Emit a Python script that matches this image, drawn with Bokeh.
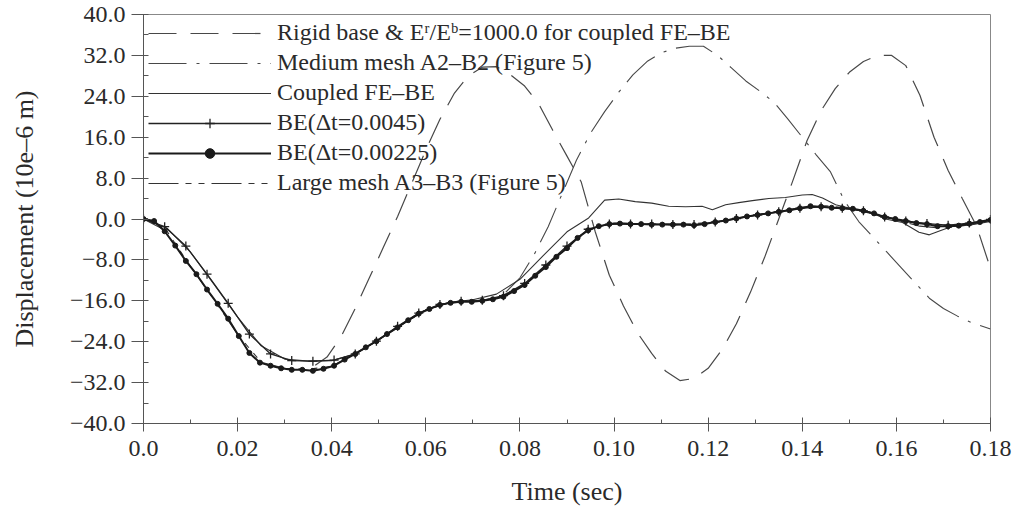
from bokeh.plotting import figure
from bokeh.models import Range1d, FixedTicker, Legend, LegendItem
from bokeh.embed import file_html
from bokeh.resources import INLINE

# ---------------- data ----------------
x_tick_vals = [0.0, 0.02, 0.04, 0.06, 0.08, 0.10, 0.12, 0.14, 0.16, 0.18]
x_tick_labels = ["0.0", "0.02", "0.04", "0.06", "0.08", "0.10", "0.12", "0.14", "0.16", "0.18"]
y_tick_vals = [-40, -32, -24, -16, -8, 0, 8, 16, 24, 32, 40]
y_tick_labels = ["\u221240.0", "\u221232.0", "\u221224.0", "\u221216.0", "\u22128.0", "0.0",
                 "8.0", "16.0", "24.0", "32.0", "40.0"]

rigid_t = [0.0365, 0.039, 0.042, 0.045, 0.048, 0.051, 0.054, 0.057, 0.060, 0.063, 0.066, 0.069,
           0.072, 0.075, 0.078, 0.081, 0.084, 0.087, 0.090, 0.093, 0.096, 0.099, 0.102, 0.105,
           0.108, 0.111, 0.114, 0.117, 0.120, 0.123, 0.126, 0.129, 0.132, 0.135, 0.138, 0.141,
           0.144, 0.147, 0.150, 0.153, 0.156, 0.159, 0.162, 0.165, 0.168, 0.171, 0.174, 0.177, 0.180]
rigid_v = [-28.6, -27.0, -23.0, -17.5, -11.5, -5.5, 0.5, 7.0, 13.5, 19.5, 24.5, 28.0,
           29.7, 29.8, 28.2, 26.0, 22.5, 17.3, 12.3, 7.3, -2.5, -11.0, -17.0, -22.3,
           -26.3, -29.8, -31.6, -31.2, -29.2, -25.5, -20.5, -14.3, -7.5, 0.0, 7.5, 15.3,
           21.2, 25.5, 28.7, 30.8, 32.0, 32.0, 30.0, 24.2, 16.0, 9.5, 4.0, -1.3, -9.7]

medium_t = [0.077, 0.080, 0.083, 0.086, 0.089, 0.092, 0.095, 0.098, 0.101, 0.104, 0.107, 0.110,
            0.113, 0.116, 0.119, 0.122, 0.125, 0.128, 0.131, 0.134, 0.137, 0.140, 0.143, 0.146,
            0.149, 0.152, 0.155, 0.158, 0.161, 0.164, 0.167, 0.170, 0.173, 0.176, 0.180]
medium_v = [-14.3, -11.5, -7.0, -1.5, 5.0, 11.5, 16.8, 21.0, 24.8, 28.2, 30.8, 32.5,
            33.4, 33.8, 33.8, 32.0, 29.5, 27.0, 25.0, 22.8, 19.5, 16.0, 12.5, 9.2,
            3.5, -0.5, -3.5, -6.5, -9.5, -12.5, -15.5, -17.5, -19.0, -20.3, -21.5]

coupled_t = [0.0, 0.005, 0.01, 0.015, 0.02, 0.025, 0.03, 0.035, 0.04, 0.045, 0.05, 0.055,
             0.06, 0.065, 0.07, 0.075, 0.08, 0.085, 0.09, 0.0946, 0.098, 0.101, 0.1045, 0.108,
             0.1116, 0.1152, 0.1187, 0.1209, 0.1237, 0.1265, 0.1294, 0.1329, 0.1364, 0.14,
             0.1421, 0.1443, 0.1471, 0.1506, 0.1542, 0.1577, 0.1613, 0.1648, 0.167, 0.169,
             0.1719, 0.1755, 0.18]
coupled_v = [0.0, -1.8, -6.5, -12.8, -19.2, -24.8, -27.4, -27.8, -27.7, -26.4, -23.6, -20.6,
             -17.8, -16.3, -15.8, -14.7, -11.8, -7.1, -2.5, 0.2, 3.7, 3.9, 3.4, 3.1,
             2.5, 2.4, 2.5, 1.8, 2.8, 3.2, 3.6, 4.0, 4.2, 4.7,
             4.8, 4.1, 2.8, 2.0, 1.4, 0.0, -0.7, -2.6, -3.1, -2.4,
             -1.4, -1.2, -0.5]

be45_t = [0.0, 0.0045, 0.009, 0.0135, 0.018, 0.0225, 0.027, 0.0315, 0.036, 0.0405, 0.045,
          0.0495, 0.054, 0.0585, 0.063, 0.0675, 0.072, 0.0765, 0.081, 0.0855, 0.09, 0.0945,
          0.099, 0.1035, 0.108, 0.1125, 0.117, 0.1215, 0.126, 0.1305, 0.135, 0.1395, 0.144,
          0.1485, 0.153, 0.1575, 0.162, 0.1665, 0.171, 0.1755, 0.18]
be45_v = [0.0, -1.5, -5.3, -10.8, -16.5, -22.5, -26.4, -27.7, -27.8, -27.6, -26.4,
          -23.9, -21.0, -18.4, -16.7, -16.1, -15.9, -15.0, -12.6, -9.0, -5.3, -2.0,
          -1.0, -1.0, -1.0, -1.1, -1.1, -0.6, 0.1, 0.8, 1.4, 2.1, 2.4,
          2.1, 1.6, 0.4, -0.4, -0.9, -1.2, -0.8, -0.1]

be225_t = [i * 0.00225 for i in range(81)]
be225_v = [0.0, -0.4, -2.4, -5.2, -8.2, -10.8, -13.8, -16.6, -19.5, -22.9,
           -26.2, -28.1, -28.7, -29.2, -29.5, -29.5, -29.7, -29.3, -28.7, -27.5,
           -26.4, -25.1, -23.9, -22.5, -21.2, -19.8, -18.5, -17.6, -16.8, -16.4,
           -16.2, -16.2, -16.0, -15.7, -15.2, -14.1, -12.9, -11.1, -9.4, -7.4,
           -5.7, -3.7, -2.2, -1.4, -1.0, -0.9, -1.0, -1.0, -1.1, -1.1,
           -1.1, -1.1, -1.2, -1.0, -0.6, -0.3, 0.1, 0.5, 0.8, 1.1,
           1.4, 1.7, 2.1, 2.5, 2.4, 2.2, 2.1, 2.0, 1.6, 1.1,
           0.4, 0.0, -0.4, -0.8, -1.0, -1.4, -1.4, -1.3, -0.9, -0.6, -0.2]

large_t = [0.0, 0.005, 0.01, 0.015, 0.02, 0.025, 0.03, 0.035, 0.04, 0.045, 0.05, 0.055, 0.06,
           0.065, 0.07, 0.075, 0.08, 0.085, 0.09, 0.095, 0.1, 0.105, 0.11, 0.115, 0.12, 0.125,
           0.13, 0.135, 0.14, 0.145, 0.15, 0.155, 0.16, 0.165, 0.17, 0.175, 0.18]
large_v = [0.0, -2.4, -9.3, -15.8, -22.6, -28.0, -29.2, -29.4, -28.8, -26.3, -23.6, -20.6, -17.8,
           -16.4, -16.1, -15.5, -13.3, -9.6, -5.6, -1.8, -0.8, -0.9, -1.0, -1.0, -0.7, -0.1,
           0.8, 1.5, 2.3, 2.6, 2.1, 1.0, -0.2, -1.4, -1.8, -1.2, -0.3]

labels = ["Rigid base & E\u02b3/E\u1d47=1000.0 for coupled FE\u2013BE",
          "Medium mesh A2\u2013B2 (Figure 5)",
          "Coupled FE\u2013BE",
          "BE(\u0394t=0.0045)",
          "BE(\u0394t=0.00225)",
          "Large mesh A3\u2013B3 (Figure 5)"]

# ---------------- figure ----------------
FONT = "Liberation Serif"
INK = "#2a2a2a"

p = figure(width=1014, height=513, output_backend="svg", toolbar_location=None,
           x_range=Range1d(0, 0.18), y_range=Range1d(-40, 40),
           min_border_left=143, min_border_right=24, min_border_top=14, min_border_bottom=90)
p.xgrid.visible = False
p.ygrid.visible = False
p.background_fill_color = "white"
p.border_fill_color = "white"
p.outline_line_color = "#888888"
p.outline_line_width = 1

p.xaxis.ticker = FixedTicker(ticks=x_tick_vals,
                             minor_ticks=[round(0.01 * i, 2) for i in range(19)])
p.xaxis.major_label_overrides = {v: s for v, s in zip(x_tick_vals, x_tick_labels)}
p.yaxis.ticker = FixedTicker(ticks=y_tick_vals, minor_ticks=list(range(-40, 41, 4)))
p.yaxis.major_label_overrides = {v: s for v, s in zip(y_tick_vals, y_tick_labels)}

for ax in (p.xaxis[0], p.yaxis[0]):
    ax.axis_line_color = "#555555"
    ax.major_tick_line_color = "#555555"
    ax.minor_tick_line_color = "#555555"
    ax.major_label_text_font = FONT
    ax.major_label_text_color = INK
    ax.major_label_text_font_size = "24px"
    ax.axis_label_text_font = FONT
    ax.axis_label_text_font_style = "normal"
    ax.axis_label_text_color = INK
    ax.axis_label_text_font_size = "26px"

p.xaxis.major_tick_in = 6
p.xaxis.major_tick_out = 8
p.xaxis.minor_tick_in = 4
p.xaxis.minor_tick_out = 0
p.xaxis.major_label_standoff = 9
p.xaxis.axis_label = "Time (sec)"
p.xaxis.axis_label_standoff = 18

p.yaxis.major_tick_in = 4
p.yaxis.major_tick_out = 12
p.yaxis.minor_tick_in = 5
p.yaxis.minor_tick_out = 0
p.yaxis.major_label_standoff = 6
p.yaxis.axis_label = "Displacement (10e\u20136 m)"
p.yaxis.axis_label_standoff = 28

r_rigid = p.line(rigid_t, rigid_v, line_color="#484848", line_width=1.2, line_dash="28 14")
r_med = p.line(medium_t, medium_v, line_color="#484848", line_width=1.1, line_dash="38 10 3 10")
r_cpl = p.line(coupled_t, coupled_v, line_color="#333333", line_width=1.1)
r_large = p.line(large_t, large_v, line_color="#333333", line_width=1.1, line_dash="30 7 6 7 6 7")
r_b45 = p.line(be45_t, be45_v, line_color="#222222", line_width=1.3)
r_b45m = p.scatter(be45_t, be45_v, marker="cross", size=9, line_color="#222222", line_width=1.3)
r_b225 = p.line(be225_t, be225_v, line_color="#1a1a1a", line_width=2.0)
r_b225m = p.scatter(be225_t, be225_v, marker="circle", size=5, fill_color="#1a1a1a",
                    line_color="#1a1a1a")

legend = Legend(items=[
    LegendItem(label=labels[0], renderers=[r_rigid]),
    LegendItem(label=labels[1], renderers=[r_med]),
    LegendItem(label=labels[2], renderers=[r_cpl]),
    LegendItem(label=labels[3], renderers=[r_b45, r_b45m]),
    LegendItem(label=labels[4], renderers=[r_b225, r_b225m]),
    LegendItem(label=labels[5], renderers=[r_large]),
], location="top_left")
legend.label_text_font = FONT
legend.label_text_font_size = "24px"
legend.label_text_color = INK
legend.glyph_width = 123
legend.glyph_height = 24
legend.spacing = 3
legend.padding = 0
legend.margin = 5
legend.label_standoff = 6
legend.background_fill_alpha = 0
legend.border_line_alpha = 0
p.add_layout(legend)

open("out.html", "w").write(file_html(p, INLINE))
